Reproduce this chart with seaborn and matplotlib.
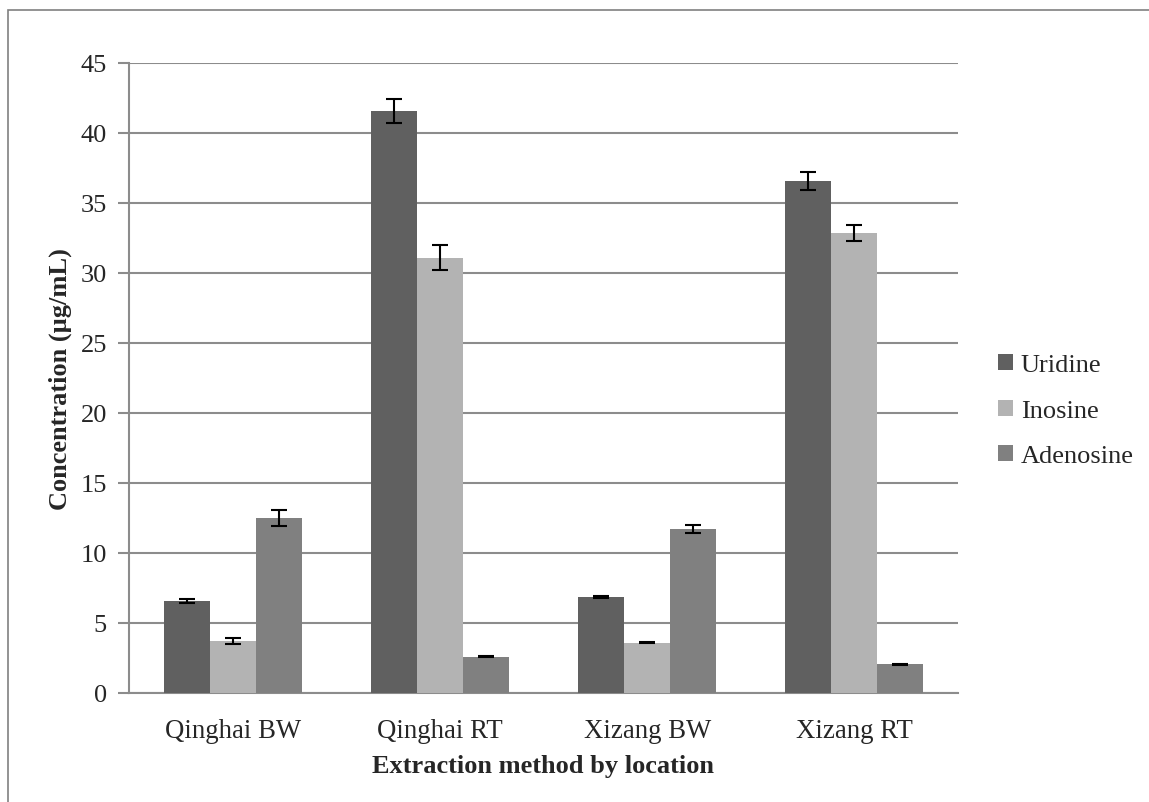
import matplotlib
matplotlib.use("Agg")
import matplotlib.pyplot as plt
import seaborn as sns
import pandas as pd
import numpy as np
from matplotlib.patches import Rectangle

categories = ["Qinghai BW", "Qinghai RT", "Xizang BW", "Xizang RT"]
series = ["Uridine", "Inosine", "Adenosine"]
uridine = [6.6, 41.6, 6.85, 36.6]
inosine = [3.7, 31.1, 3.6, 32.85]
adenosine = [12.5, 2.6, 11.7, 2.05]
uridine_err = [0.15, 0.85, 0.05, 0.65]
inosine_err = [0.2, 0.9, 0.05, 0.55]
adenosine_err = [0.6, 0.05, 0.3, 0.05]
colors = ["#606060", "#b3b3b3", "#808080"]

vals = {"Uridine": uridine, "Inosine": inosine, "Adenosine": adenosine}
errs = {"Uridine": uridine_err, "Inosine": inosine_err, "Adenosine": adenosine_err}
rows = []
for s in series:
    for c, v, e in zip(categories, vals[s], errs[s]):
        rows.append({"cat": c, "series": s, "val": v, "err": e})
df = pd.DataFrame(rows)

sns.set_theme(style="white")
plt.rcParams["font.family"] = ["Liberation Serif", "DejaVu Serif"]

fig = plt.figure(figsize=(11.49, 8.03), dpi=100)
ax = fig.add_axes([129/1149, 1-694/803, (958-129)/1149, (694-64)/803])

sns.barplot(data=df, x="cat", y="val", hue="series", order=categories, hue_order=series,
            palette=colors, errorbar=None, width=0.667, saturation=1, ax=ax, zorder=3,
            edgecolor="none")

# error bars at bar centres
for s, cont in zip(series, ax.containers):
    xs = [p.get_x() + p.get_width()/2 for p in cont.patches]
    ax.errorbar(xs, vals[s], yerr=errs[s], fmt="none", ecolor="black", elinewidth=1.5,
                capsize=6, capthick=1.5, zorder=4)

ax.set_ylim(0, 45)
ax.set_yticks(np.arange(0, 46, 5))
ax.set_xlim(-0.5, 3.5)
ax.yaxis.grid(True, color="#8c8c8c", linewidth=1.5, zorder=0)
ax.set_axisbelow(True)
for sp in ["top", "right"]:
    ax.spines[sp].set_visible(False)
for sp in ["left", "bottom"]:
    ax.spines[sp].set_color("#8c8c8c")
    ax.spines[sp].set_linewidth(1.5)
ax.tick_params(axis="y", left=True, length=8, width=1.5, color="#8c8c8c", labelsize=19, pad=8)
ax.tick_params(axis="x", bottom=False, labelsize=19.3, pad=12)

ax.set_ylabel("Concentration (µg/mL)", fontsize=19, fontweight="bold", labelpad=6)
ax.set_xlabel("Extraction method by location", fontsize=19, fontweight="bold", labelpad=8)

leg = ax.legend(loc="center left", bbox_to_anchor=(1.02, 0.448), frameon=False, fontsize=19,
                handlelength=0.55, handleheight=0.55, handletextpad=0.3, labelspacing=0.88)

fig.add_artist(Rectangle((8/1149, -0.1), 1.2, 1 - 11/803 + 0.1, transform=fig.transFigure,
                         fill=False, edgecolor="#808080", linewidth=1.2))

fig.savefig("out.png", dpi=100, facecolor="white")
